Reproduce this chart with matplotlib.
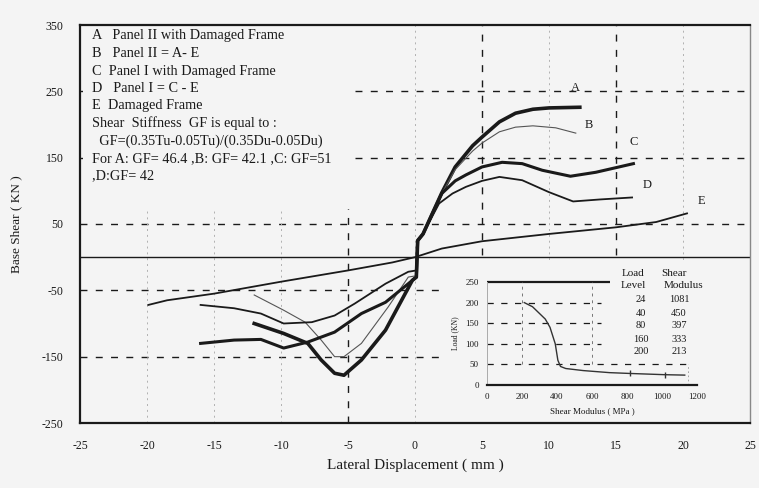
import matplotlib.pyplot as plt
from matplotlib.patches import Rectangle

plt.rcParams['font.family'] = ['Liberation Serif', 'DejaVu Serif']
plt.rcParams['axes.unicode_minus'] = False

# main curves (lateral displacement mm, base shear KN)
a_x = [-12, -9.8, -8, -7, -6, -5.3, -4, -2.2, -1, -0.2, 0.1, 0.2, 0.6, 1.3, 2, 3, 4.3, 5, 6.3, 7.5, 8.8, 10, 12.3]
a_y = [-100, -115, -130, -155, -175, -178, -155, -110, -65, -35, -30, 25, 35, 66, 97, 136, 168, 181, 204, 217, 223, 225, 226]

b_x = [-12, -9.8, -8.2, -7, -6, -5.3, -4, -2, -0.5, 0.1, 0.2, 0.6, 1.3, 2, 3, 4.3, 5, 6.3, 7.5, 8.8, 10.5, 12]
b_y = [-57, -80, -98, -125, -150, -150, -130, -75, -30, -28, 25, 35, 66, 96, 132, 160, 172, 189, 196, 198, 195, 187]

c_x = [-16, -13.5, -11.5, -9.8, -8, -6, -4, -2.2, -0.2, 0.1, 0.2, 0.6, 1.3, 2, 3, 3.8, 5, 6.5, 8, 9.5, 11.6, 13.5, 16.3]
c_y = [-130, -125, -124, -137, -128, -113, -85, -68, -35, -30, 25, 35, 66, 96, 115, 124, 136, 143, 141, 131, 122, 128, 141]

d_x = [-16, -13.5, -11.5, -9.8, -7.7, -6, -4.5, -2.2, -0.5, 0.1, 0.2, 0.6, 1.3, 1.8, 2.8, 3.8, 5, 6.3, 8, 10, 11.8, 13.8, 16.2]
d_y = [-72, -77, -85, -100, -98, -88, -70, -40, -22, -20, 25, 35, 62, 81, 96, 106, 115, 121, 116, 98, 84, 87, 90]

e_x = [-19.9, -18.5, -15, -10, -5, -1.7, 0, 2, 5, 10, 15, 18, 20.3]
e_y = [-72, -65, -55, -37, -20, -8, 0, 13, 24, 35, 45, 53, 66]

curve_labels = ['A', 'B', 'C', 'D', 'E']
label_x = [12, 13, 16.3, 17.3, 21.4]
label_y = [255, 199, 173, 109, 84]

notes = [
    'A   Panel II with Damaged Frame',
    'B   Panel II = A- E',
    'C  Panel I with Damaged Frame',
    'D   Panel I = C - E',
    'E  Damaged Frame',
    'Shear  Stiffness  GF is equal to :',
    '  GF=(0.35Tu-0.05Tu)/(0.35Du-0.05Du)',
    'For A: GF= 46.4 ,B: GF= 42.1 ,C: GF=51',
    ',D:GF= 42',
]

# inset: load vs shear modulus
load_level = [24, 40, 80, 160, 200]
shear_modulus = [1081, 450, 397, 333, 213]
inset_x = [213, 260, 333, 360, 390, 405, 420, 450, 550, 700, 817, 1017, 1130]
inset_y = [200, 190, 160, 140, 100, 60, 45, 40, 35, 30, 28, 25, 24]

ink = '#1a1a1a'
paper = '#f4f4f4'

fig = plt.figure(figsize=(7.59, 4.88), dpi=100, facecolor=paper)
ax = fig.add_axes([80/759, 1-423/488, 670/759, 398/488], facecolor=paper)
ax.set_xlim(-25, 25)
ax.set_ylim(-250, 350)
ax.set_xticks(range(-25, 26, 5))
ax.set_yticks(range(-250, 351, 100))
ax.tick_params(length=0, labelsize=8.5, colors=ink, pad=12)

for s in ['left', 'bottom', 'top']:
    ax.spines[s].set_linewidth(1.6)
    ax.spines[s].set_color(ink)
ax.spines['right'].set_linewidth(1.0)
ax.spines['right'].set_color('#888888')

# grid
for yv in [250, 150, 50, -50, -150]:
    ax.axhline(yv, color=ink, lw=1.0, ls=(0, (5, 6)), zorder=1)
for xv in [-5, 5, 15]:
    ax.axvline(xv, color=ink, lw=1.0, ls=(0, (5, 6)), zorder=1)
for xv in [-20, -15, -10, 0, 10, 20]:
    ax.axvline(xv, color='#b0b0b0', lw=0.7, ls=(0, (2, 4)), zorder=1)
ax.axhline(0, color=ink, lw=1.0, zorder=2)

# blank areas behind the notes and the inset
ax.add_patch(Rectangle((-24.8, 72), 20.1, 276, facecolor=paper, edgecolor='none', zorder=1.5))
ax.add_patch(Rectangle((2, -248), 22.8, 243, facecolor=paper, edgecolor='none', zorder=1.5))

ax.plot(a_x, a_y, color=ink, lw=2.6, zorder=4)
ax.plot(b_x, b_y, color='#555555', lw=0.8, zorder=4)
ax.plot(c_x, c_y, color=ink, lw=2.2, zorder=4)
ax.plot(d_x, d_y, color=ink, lw=1.3, zorder=4)
ax.plot(e_x, e_y, color=ink, lw=1.3, zorder=4)

for lab, lx, ly in zip(curve_labels, label_x, label_y):
    ax.text(lx, ly, lab, fontsize=9, color=ink, ha='center', va='center')

for i, line in enumerate(notes):
    fig.text(92/759, 1 - (36 + i*17.5)/488, line, fontsize=10.3, color=ink, va='center', ha='left')

ax.set_xlabel('Lateral Displacement ( mm )', fontsize=11, color=ink, labelpad=5)
ax.set_ylabel('Base Shear ( KN )', fontsize=9.5, color=ink, labelpad=14)

# inset
ins = fig.add_axes([487/759, 1-385/488, 210/759, 103/488], facecolor=paper)
ins.set_xlim(0, 1200)
ins.set_ylim(0, 250)
ins.set_xticks(range(0, 1201, 200))
ins.set_yticks(range(0, 251, 50))
ins.tick_params(length=0, labelsize=6.5, colors=ink, pad=6)
for s in ['top', 'right']:
    ins.spines[s].set_visible(False)
ins.spines['left'].set_color('#aaaaaa')
ins.spines['left'].set_linewidth(0.7)
ins.spines['bottom'].set_color(ink)
ins.spines['bottom'].set_linewidth(1.6)
ins.hlines(250, 0, 700, color=ink, lw=1.6, clip_on=False)
for yv in [100, 150, 200]:
    ins.hlines(yv, 0, 650, color=ink, lw=0.9, ls=(0, (5, 6)))
ins.hlines(50, 0, 1150, color=ink, lw=0.9, ls=(0, (5, 6)))
for xv in [200, 600]:
    ins.vlines(xv, 50, 250, color='#777777', lw=0.7, ls=(0, (3, 4)))
ins.vlines(1150, 0, 50, color='#999999', lw=0.6, ls=(0, (2, 3)))
ins.plot(inset_x, inset_y, color='#333333', lw=1.0)
ins.plot(inset_x[-3:-1], inset_y[-3:-1], ls='none', marker='|', ms=5, color='#333333')
ins.set_xlabel('Shear Modulus ( MPa )', fontsize=6.5, color=ink, labelpad=4)
ins.set_ylabel('Load (KN)', fontsize=5.5, color=ink, labelpad=4)

# load / modulus table
fig.text(633/759, 1-273/488, 'Load', fontsize=8, ha='center', va='center', color=ink)
fig.text(674/759, 1-273/488, 'Shear', fontsize=8, ha='center', va='center', color=ink)
fig.text(633/759, 1-285/488, 'Level', fontsize=8, ha='center', va='center', color=ink)
fig.text(683/759, 1-285/488, 'Modulus', fontsize=8, ha='center', va='center', color=ink)
for i, (ld, sm) in enumerate(zip(load_level, shear_modulus)):
    yy = 1 - (300 + i*13)/488
    fig.text(641/759, yy, str(ld), fontsize=7.5, ha='center', va='center', color=ink)
    fig.text(679/759, yy, str(sm), fontsize=7.5, ha='center', va='center', color=ink)

fig.savefig('out.png', dpi=100, facecolor=paper)
